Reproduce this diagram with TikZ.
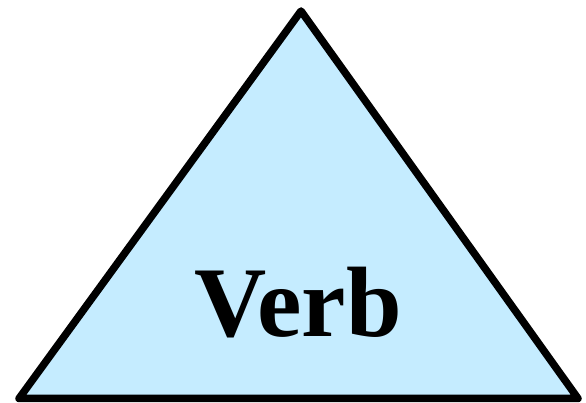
\documentclass[tikz,border=0pt]{standalone}
\usepackage{fontspec}
\setmainfont{Liberation Serif}
\usepackage{tikz}
\definecolor{paleblue}{RGB}{197,236,255}

\begin{document}
\begin{tikzpicture}[
        x=1pt, y=1pt,
        tri/.style={draw=black, fill=paleblue, line width=7.5pt, line join=round},
        word/.style={font=\fontsize{100}{102}\selectfont\bfseries, anchor=base, inner sep=0pt}
    ]

    % Fix the page to the reference size
    \useasboundingbox (0,0) rectangle (586,403);

    % Corners of the triangle
    \coordinate (top) at (301,392);
    \coordinate (left) at (19,4.5);
    \coordinate (right) at (578,4.5);

    % Draw the triangle
    \draw[tri] (top) -- (left) -- (right) -- cycle;

    % Label
    \node[word] (verb) at (298,66) {Verb};

\end{tikzpicture}
\end{document}
